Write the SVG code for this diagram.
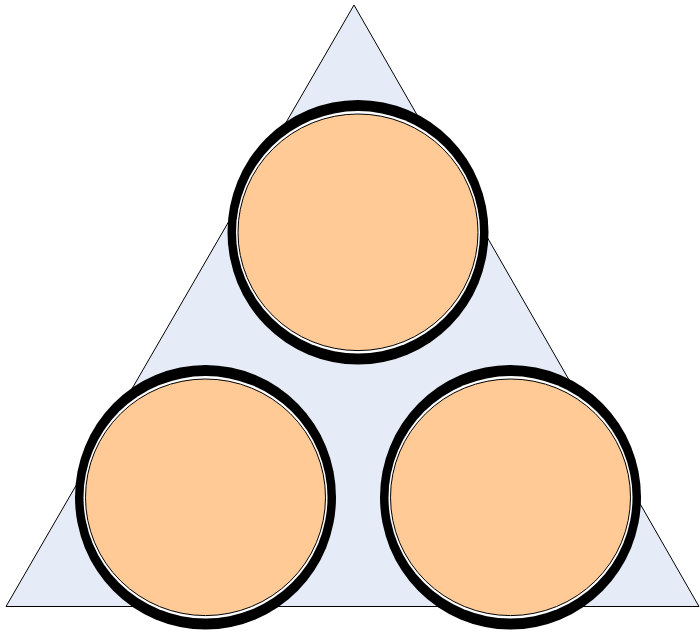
<svg xmlns="http://www.w3.org/2000/svg" width="700" height="633" viewBox="0 0 700 633">
<style>
.outer{fill:#000000}
.gap{fill:#FFFFFF}
.inner{fill:#FFCA96;stroke:#000000;stroke-width:1}
</style>
<defs>
<g id="disc">
<ellipse class="outer" cx="0" cy="0" rx="130.5" ry="132.3"/>
<ellipse class="gap" cx="0" cy="0" rx="122" ry="121.2"/>
<ellipse class="inner" cx="0" cy="0" rx="120" ry="118.3"/>
</g>
</defs>
<rect width="700" height="633" fill="#FFFFFF"/>
<g id="triangle">
<polygon points="354,5 699,606.5 6,606.5" fill="#E6ECF7" stroke="#000000" stroke-width="1"/>
</g>
<g id="circle-top">
<use href="#disc" x="358" y="232.3"/>
</g>
<g id="circle-left">
<use href="#disc" x="205.5" y="497.3"/>
</g>
<g id="circle-right">
<use href="#disc" x="510.5" y="497.3"/>
</g>
<g id="connectors"/>
</svg>
